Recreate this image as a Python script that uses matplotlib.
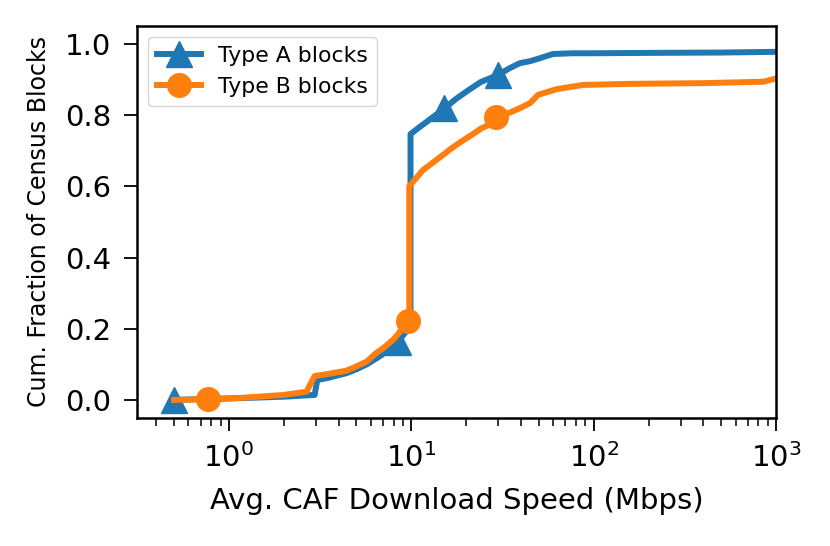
import numpy as np
import matplotlib.pyplot as plt

# CDF points (speed in Mbps, cumulative fraction)
speed_a = [0.5, 1.0, 2.0, 2.95, 3.05, 3.5, 4.4, 5.0, 5.7, 6.5, 7.3, 8.45, 9.3, 9.9,
           9.9, 11.0, 13.1, 15.2, 17.5, 20.0, 24.0, 29.9, 34.0, 39.3, 45.0, 50.6,
           55.0, 59.9, 77.0, 100.0, 200.0, 500.0, 1000.0]
frac_a = [0.0, 0.004, 0.009, 0.014, 0.056, 0.062, 0.075, 0.086, 0.10, 0.118, 0.135,
          0.164, 0.19, 0.205, 0.747, 0.765, 0.794, 0.819, 0.845, 0.866, 0.893, 0.913,
          0.93, 0.946, 0.952, 0.96, 0.966, 0.972, 0.974, 0.974, 0.975, 0.976, 0.978]
marks_a = [0, 11, 17, 21]

speed_b = [0.5, 0.767, 1.2, 2.0, 2.66, 2.95, 3.5, 4.4, 5.0, 5.7, 6.4, 7.2, 7.95, 8.8,
           9.6, 9.75, 9.75, 10.5, 11.6, 13.0, 14.9, 16.5, 18.8, 21.5, 24.2, 26.5,
           29.0, 35.0, 41.0, 45.0, 49.5, 62.5, 87.5, 158.0, 400.0, 851.0, 1000.0]
frac_b = [0.0, 0.002, 0.006, 0.014, 0.023, 0.067, 0.073, 0.082, 0.094, 0.108, 0.131,
          0.15, 0.169, 0.195, 0.223, 0.24, 0.601, 0.62, 0.646, 0.665, 0.688, 0.706,
          0.726, 0.745, 0.763, 0.772, 0.794, 0.808, 0.824, 0.835, 0.857, 0.873,
          0.885, 0.888, 0.89, 0.894, 0.903]
marks_b = [1, 14, 26]

fig, ax = plt.subplots(figsize=(8.3, 5.46), dpi=100)
fig.subplots_adjust(left=0.165, right=0.935, top=0.952, bottom=0.235)

ax.plot(speed_a, frac_a, "-^", color="#1f77b4", linewidth=4.3, markersize=18.5,
        markevery=marks_a, label="Type A blocks")
ax.plot(speed_b, frac_b, "-o", color="#ff7f0e", linewidth=4.3, markersize=17,
        markevery=marks_b, label="Type B blocks")

ax.set_xscale("log")
ax.set_xlim(0.313, 1000)
ax.set_ylim(-0.05, 1.05)
ax.set_yticks([0.0, 0.2, 0.4, 0.6, 0.8, 1.0])
ax.tick_params(labelsize=21, pad=9)
ax.tick_params(which="major", length=9.5, width=1.3)
ax.tick_params(which="minor", length=5.5, width=1.1)
for s in ax.spines.values():
    s.set_linewidth(1.8)

ax.set_xlabel("Avg. CAF Download Speed (Mbps)", fontsize=21, labelpad=10)
ax.set_ylabel("Cum. Fraction of Census Blocks", fontsize=17, labelpad=10)
ax.legend(loc="upper left", fontsize=15.8, handlelength=2.0)

fig.savefig("out.png")
